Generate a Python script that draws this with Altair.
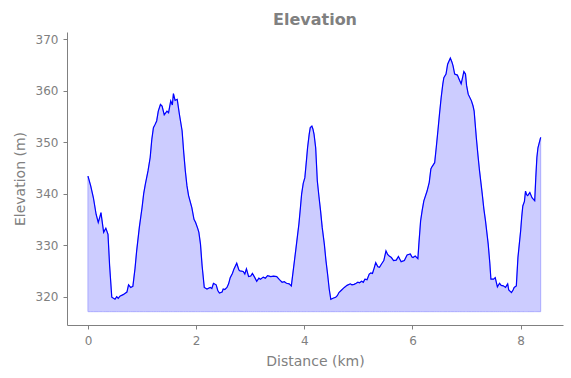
import altair as alt
import pandas as pd

dist_km = [0.00, 0.05, 0.10, 0.15, 0.19, 0.22, 0.24, 0.27, 0.29, 0.33, 0.37, 0.40, 0.44, 0.50, 0.53, 0.56, 0.59, 0.65, 0.72, 0.75,
           0.79, 0.83, 0.87, 0.90, 0.95, 1.00, 1.03, 1.06, 1.11, 1.15, 1.18, 1.21, 1.24, 1.27, 1.30, 1.34, 1.37, 1.41, 1.46, 1.49,
           1.53, 1.56, 1.58, 1.61, 1.65, 1.69, 1.74, 1.77, 1.80, 1.83, 1.86, 1.92, 1.96, 1.99, 2.03, 2.05, 2.08, 2.11, 2.15, 2.20,
           2.26, 2.29, 2.32, 2.37, 2.40, 2.43, 2.48, 2.50, 2.53, 2.57, 2.60, 2.63, 2.67, 2.70, 2.75, 2.79, 2.81, 2.87, 2.90, 2.93,
           2.97, 3.01, 3.04, 3.08, 3.12, 3.16, 3.19, 3.24, 3.28, 3.32, 3.38, 3.43, 3.49, 3.54, 3.59, 3.63, 3.67, 3.72, 3.76, 3.80,
           3.84, 3.87, 3.90, 3.93, 3.95, 3.98, 4.01, 4.04, 4.06, 4.09, 4.11, 4.14, 4.16, 4.18, 4.21, 4.24, 4.27, 4.30, 4.33, 4.37,
           4.40, 4.43, 4.46, 4.49, 4.53, 4.58, 4.61, 4.64, 4.69, 4.74, 4.79, 4.85, 4.88, 4.92, 4.96, 4.99, 5.02, 5.06, 5.09, 5.12,
           5.16, 5.20, 5.23, 5.26, 5.29, 5.32, 5.36, 5.39, 5.43, 5.47, 5.51, 5.54, 5.57, 5.61, 5.65, 5.70, 5.74, 5.79, 5.85, 5.90,
           5.96, 5.99, 6.01, 6.05, 6.10, 6.12, 6.15, 6.18, 6.21, 6.27, 6.31, 6.34, 6.36, 6.41, 6.44, 6.47, 6.50, 6.53, 6.56, 6.58,
           6.62, 6.65, 6.70, 6.73, 6.75, 6.78, 6.83, 6.87, 6.90, 6.93, 6.95, 6.98, 7.00, 7.03, 7.09, 7.12, 7.14, 7.18, 7.21, 7.24,
           7.29, 7.32, 7.35, 7.40, 7.43, 7.45, 7.50, 7.53, 7.57, 7.61, 7.64, 7.68, 7.72, 7.76, 7.78, 7.83, 7.86, 7.88, 7.92, 7.95,
           8.00, 8.02, 8.04, 8.07, 8.09, 8.11, 8.13, 8.17, 8.21, 8.26, 8.28, 8.30, 8.32, 8.37]

elev_m = [343.4, 341.5, 339.2, 336.0, 334.4, 335.5, 336.3, 334.0, 332.5, 333.3, 332.1, 326.0, 319.9, 319.5, 320.0, 319.7, 320.1, 320.4, 320.9, 322.3,
          321.8, 322.0, 325.5, 328.9, 333.5, 337.3, 340.0, 341.8, 344.4, 347.0, 350.5, 352.8, 353.4, 354.1, 356.0, 357.3, 357.0, 355.3, 356.0, 355.7,
          358.0, 357.2, 359.4, 358.1, 358.3, 355.4, 352.2, 348.0, 344.4, 341.5, 339.6, 337.3, 335.0, 334.4, 333.2, 332.5, 330.2, 326.0, 321.8, 321.5,
          321.8, 321.6, 322.6, 322.3, 321.2, 320.7, 320.9, 321.5, 321.4, 321.8, 322.5, 323.7, 324.5, 325.4, 326.5, 325.2, 325.0, 324.9, 324.4, 325.4,
          323.9, 324.0, 324.5, 323.8, 323.0, 323.6, 323.4, 323.8, 323.6, 324.1, 323.9, 324.0, 323.9, 323.3, 322.8, 322.9, 322.6, 322.5, 322.1, 325.5,
          328.9, 331.5, 334.1, 337.5, 339.9, 342.0, 343.1, 346.5, 348.9, 351.5, 352.8, 353.1, 352.5, 351.5, 348.9, 342.5, 339.5, 336.7, 333.5, 330.2,
          327.0, 324.4, 321.5, 319.5, 319.7, 319.9, 320.2, 320.8, 321.3, 321.8, 322.2, 322.5, 322.3, 322.4, 322.6, 322.8, 322.7, 323.0, 322.8, 323.4,
          323.3, 324.4, 324.6, 324.5, 325.5, 326.6, 325.8, 325.7, 326.4, 327.0, 328.9, 328.2, 327.9, 327.6, 327.0, 327.1, 327.8, 326.8, 327.0, 328.1,
          328.3, 327.7, 327.6, 327.9, 327.4, 330.5, 334.7, 336.8, 338.6, 340.5, 342.2, 344.8, 345.2, 346.0, 349.0, 352.2, 355.5, 358.6, 361.2, 362.5,
          363.2, 365.1, 366.3, 365.5, 364.8, 363.2, 363.0, 362.0, 361.3, 362.7, 363.7, 363.2, 361.0, 359.3, 358.0, 357.0, 356.0, 350.9, 347.5, 344.4,
          339.9, 337.0, 334.7, 330.2, 326.5, 323.4, 323.4, 323.7, 321.9, 322.6, 322.2, 322.1, 321.8, 322.5, 321.3, 320.8, 321.3, 321.8, 322.1, 327.6,
          332.8, 335.5, 337.6, 338.5, 340.5, 339.8, 339.6, 340.2, 339.2, 338.6, 343.1, 347.0, 348.9, 350.9]

area_base = 317.1
x_ticks = [0, 2, 4, 6, 8]
y_ticks = [320, 330, 340, 350, 360, 370]

df = pd.DataFrame({"dist": dist_km, "elev": elev_m})
df["base"] = area_base

FONT = "DejaVu Sans"
GRAY = "#808080"

x_enc = alt.X("dist:Q", title="Distance (km)",
              scale=alt.Scale(domain=[-0.388, 8.783], nice=False, zero=False),
              axis=alt.Axis(values=x_ticks, grid=False, tickSize=4, labelPadding=6, titlePadding=8,
                            format="d"))
y_scale = alt.Scale(domain=[314.51, 371.36], nice=False, zero=False)

area = alt.Chart(df).mark_area(color="#ccccff", stroke="#aaaaff", strokeWidth=1, opacity=1).encode(
    x=x_enc,
    y=alt.Y("elev:Q", title="Elevation (m)", scale=y_scale,
            axis=alt.Axis(values=y_ticks, grid=False, tickSize=4, labelPadding=5, titlePadding=8)),
    y2="base:Q",
)

line = alt.Chart(df).mark_line(color="#0000ff", strokeWidth=1.2).encode(
    x=alt.X("dist:Q"),
    y=alt.Y("elev:Q"),
)

chart = (area + line).properties(
    width=496,
    height=293,
    autosize=alt.AutoSizeParams(type="none"),
    padding={"left": 67, "top": 32, "right": 8, "bottom": 53},
    title=alt.TitleParams("Elevation", font=FONT, fontSize=16, fontWeight="bold", color=GRAY,
                          anchor="middle", offset=8, dy=17, baseline="alphabetic"),
).configure_view(stroke=None).configure_axis(
    labelFont=FONT, titleFont=FONT, labelFontSize=12, titleFontSize=14,
    labelColor=GRAY, titleColor=GRAY, domainColor=GRAY, tickColor=GRAY,
    titleFontWeight="normal", domainWidth=1, tickWidth=1,
)

chart.save("out.html", embed_options={"renderer": "svg", "actions": False})
